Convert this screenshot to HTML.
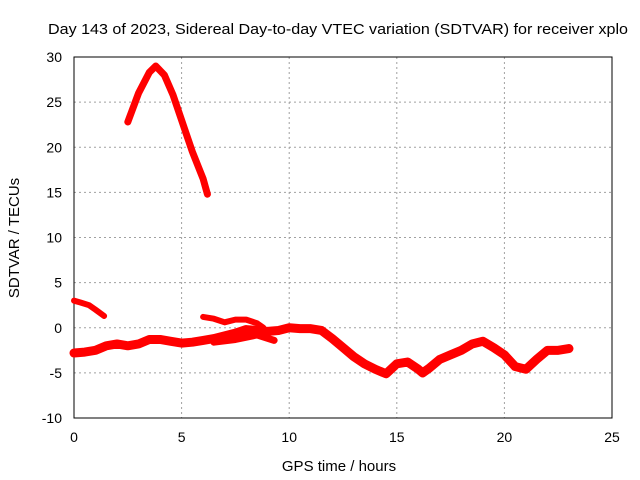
<!DOCTYPE html>
<html><head><meta charset="utf-8"><style>
body{margin:0;background:#fff}
svg{display:block;font-family:"Liberation Sans",sans-serif;font-size:14px}
</style></head><body>
<svg id="c" width="640" height="480"></svg>
<script>
const xTicks=[0,5,10,15,20,25];
const yTicks=[-10,-5,0,5,10,15,20,25,30];
const segArcH=[2.5,3.0,3.5,3.8,4.2,4.6,5.0,5.5,6.0,6.2];
const segArcV=[22.8,26,28.3,29,28,25.8,23,19.5,16.5,14.8];
const segEarlyH=[0,0.3,0.7,1.0,1.4];
const segEarlyV=[3.0,2.8,2.5,2.0,1.3];
const segMidH=[6.0,6.5,7,7.5,8,8.5,8.8];
const segMidV=[1.2,1.0,0.6,0.9,0.9,0.5,0];
const segLowH=[6.5,7.5,8.5,9.3];
const segLowV=[-1.6,-1.3,-0.8,-1.4];
const segMainH=[0,0.5,1,1.5,2,2.5,3,3.5,4,4.5,5,5.5,6,6.5,7,7.5,8,8.5,9,9.5,10,10.5,11,11.5,12,12.5,13,13.5,14,14.5,15,15.5,16,16.2,16.5,17,17.5,18,18.5,19,19.5,20,20.5,21,21.5,22,22.5,23];
const segMainV=[-2.8,-2.7,-2.5,-2.0,-1.8,-2.0,-1.8,-1.3,-1.3,-1.5,-1.7,-1.6,-1.4,-1.2,-0.9,-0.6,-0.2,-0.3,-0.4,-0.3,0,-0.1,-0.1,-0.3,-1.2,-2.2,-3.2,-4.0,-4.6,-5.1,-4.0,-3.8,-4.6,-5.0,-4.5,-3.5,-3.0,-2.5,-1.8,-1.5,-2.2,-3.0,-4.3,-4.6,-3.5,-2.5,-2.5,-2.3];
const L=74,R=612,T=57,B=418;
const X=v=>L+(v-0)/(25-0)*(R-L);
const Y=v=>B-(v+10)/40*(B-T);
const svg=document.getElementById('c');const NS='http://www.w3.org/2000/svg';
function mk(t,a,txt){const e=document.createElementNS(NS,t);for(const k in a)e.setAttribute(k,a[k]);if(txt!=null)e.textContent=txt;svg.appendChild(e);return e;}
xTicks.forEach(t=>{
 if(t>0&&t<25){const g=mk('line',{x1:X(t),x2:X(t),y1:T,y2:B,stroke:'#a0a0a0','stroke-dasharray':'2,3'});
 
 }
 const tk=mk('text',{x:X(t),y:B+24,'text-anchor':'middle'},t);
 
 
});
yTicks.forEach(t=>{
 if(t>-10&&t<30){const g=mk('line',{x1:L,x2:R,y1:Y(t),y2:Y(t),stroke:'#a0a0a0','stroke-dasharray':'2,3'});
 
 }
 const tk=mk('text',{x:L-12,y:Y(t)+5,'text-anchor':'end'},t);
 
 
});
const fr=mk('rect',{x:L,y:T,width:R-L,height:B-T,fill:'none',stroke:'#000'});


function seg(H,V,w,name){
 const p=mk('polyline',{points:H.map((h,i)=>X(h)+','+Y(V[i])).join(' '),fill:'none',stroke:'#ff0000','stroke-width':w,'stroke-linejoin':'round','stroke-linecap':'round'});
 
 
}
seg(segArcH,segArcV,7,'series-arc');
seg(segEarlyH,segEarlyV,6,'series-early');
seg(segMidH,segMidV,6,'series-mid');
seg(segLowH,segLowV,7,'series-low');
seg(segMainH,segMainV,9,'series-main');
const t1=mk('text',{x:48,y:34,textLength:580,lengthAdjust:'spacingAndGlyphs','font-size':'15'},'Day 143 of 2023, Sidereal Day-to-day VTEC variation (SDTVAR) for receiver xplo');


const t2=mk('text',{x:339,y:471,'text-anchor':'middle','font-size':'15'},'GPS time / hours');


const t3=mk('text',{x:19,y:238,'text-anchor':'middle','font-size':'15',transform:'rotate(-90 19 238)'},'SDTVAR / TECUs');


</script>
</body></html>
